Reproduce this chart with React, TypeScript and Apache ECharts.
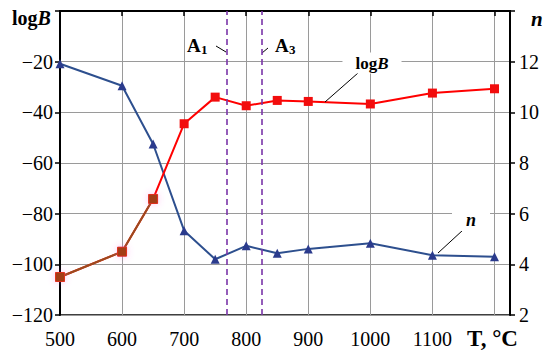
import React, { useEffect, useRef } from "react";
import * as echarts from "echarts";

const temps = [500, 600, 650, 700, 750, 800, 850, 900, 1000, 1100, 1200];
const logB = [-105, -95, -74.2, -44.5, -34, -37.4, -35.3, -35.7, -36.7, -32.4, -30.7];
const nVals = [11.92, 11.05, 8.75, 5.33, 4.2, 4.73, 4.44, 4.61, 4.83, 4.36, 4.3];
const xTicks = [500, 600, 700, 800, 900, 1000, 1100, 1200];
const xLabels = [500, 600, 700, 800, 900, 1000, 1100];
const criticalTemps = [769, 825];
const brownCount = 3;

const FONT = "Liberation Serif";

export default function App() {
  const ref = useRef<HTMLDivElement>(null);
  useEffect(() => {
    if (!ref.current) return;
    const chart = echarts.init(ref.current, null, { renderer: "svg" });
    const redData = temps.map((t, i) => [t, logB[i]]);
    const brownData = redData.slice(0, brownCount);
    const blueData = temps.map((t, i) => [t, nVals[i]]);
    const minus = (v: number) => (v < 0 ? "\u2212" + Math.abs(v) : String(v));
    chart.setOption({
      animation: false,
      backgroundColor: "#fff",
      grid: {
        left: 60,
        right: 40,
        top: 11,
        bottom: 45,
        show: true,
        borderColor: "#000",
        borderWidth: 1.5,
        backgroundColor: "transparent",
      },
      xAxis: {
        type: "value",
        min: 500,
        max: 1225,
        interval: 100,
        axisLine: { show: true, lineStyle: { color: "#000", width: 2 } },
        axisTick: {
          show: true,
          customValues: xTicks,
          length: 5,
          lineStyle: { color: "#000", width: 1.5 },
        },
        axisLabel: {
          customValues: xLabels,
          fontFamily: FONT,
          fontSize: 20,
          color: "#000",
          margin: 14,
          formatter: (v: number) => String(v),
        },
        splitLine: { show: true, lineStyle: { color: "#9a9a9a", width: 1 } },
      },
      yAxis: [
        {
          type: "value",
          min: -120,
          max: 0,
          interval: 20,
          axisLine: { show: true, lineStyle: { color: "#000", width: 2 } },
          axisTick: { show: true, length: 5, lineStyle: { color: "#000", width: 1.5 } },
          axisLabel: {
            fontFamily: FONT,
            fontSize: 20,
            color: "#000",
            margin: 7,
            formatter: (v: number) => (v === 0 ? "" : minus(v)),
          },
          splitLine: { show: true, lineStyle: { color: "#9a9a9a", width: 1 } },
        },
        {
          type: "value",
          min: 2,
          max: 14,
          interval: 2,
          position: "right",
          axisLine: { show: true, lineStyle: { color: "#000", width: 2 } },
          axisTick: { show: true, length: 5, lineStyle: { color: "#000", width: 1.5 } },
          axisLabel: {
            fontFamily: FONT,
            fontSize: 20,
            color: "#000",
            margin: 9,
            formatter: (v: number) => (v === 14 ? "" : String(v)),
          },
          splitLine: { show: false },
        },
      ],
      series: [
        {
          type: "line",
          name: "n",
          yAxisIndex: 1,
          data: blueData,
          symbol: "triangle",
          symbolSize: 9,
          lineStyle: { color: "#2d4f8e", width: 2 },
          itemStyle: { color: "#2b3b8d" },
          z: 3,
        },
        {
          type: "line",
          name: "logB",
          data: redData,
          symbol: "rect",
          symbolSize: 9,
          lineStyle: { color: "#ff0000", width: 2 },
          itemStyle: { color: "#f20d0d" },
          z: 4,
          markLine: {
            silent: true,
            symbol: "none",
            label: { show: false },
            lineStyle: { type: [6, 4], color: "#7a35a8", width: 1.6 },
            data: criticalTemps.map((t) => ({ xAxis: t })),
          },
        },
        {
          type: "line",
          name: "logBlow",
          data: brownData,
          symbol: "rect",
          symbolSize: 9,
          lineStyle: { color: "#9a4c1e", width: 2 },
          itemStyle: {
            color: "#a33c14",
            borderColor: "#e0301a",
            borderWidth: 1,
            shadowColor: "rgba(255,90,220,0.35)",
            shadowBlur: 7,
          },
          z: 5,
        },
      ],
      graphic: [
        {
          type: "text",
          left: 12,
          top: 8,
          style: {
            text: "{a|log}{b|B}",
            rich: {
              a: { fontFamily: FONT, fontSize: 20, fontWeight: "bold", fill: "#000" },
              b: { fontFamily: FONT, fontSize: 20, fontWeight: "bold", fontStyle: "italic", fill: "#000" },
            },
          },
        },
        {
          type: "text",
          left: 531,
          top: 8,
          style: {
            text: "n",
            fontFamily: FONT,
            fontSize: 21,
            fontWeight: "bold",
            fontStyle: "italic",
            fill: "#000",
          },
        },
        {
          type: "text",
          left: 467,
          top: 327,
          style: {
            text: "T, \u00B0C",
            fontFamily: FONT,
            fontSize: 23,
            fontWeight: "bold",
            fill: "#000",
          },
        },
        {
          type: "text",
          x: 187,
          y: 36,
          style: { text: "A", fontFamily: FONT, fontSize: 19, fontWeight: "bold", fill: "#000" },
        },
        {
          type: "text",
          x: 201,
          y: 43,
          style: { text: "1", fontFamily: FONT, fontSize: 13, fontWeight: "bold", fill: "#000" },
        },
        {
          type: "line",
          shape: { x1: 216, y1: 46, x2: 226, y2: 52 },
          style: { stroke: "#000", lineWidth: 1 },
        },
        {
          type: "text",
          x: 275,
          y: 36,
          style: { text: "A", fontFamily: FONT, fontSize: 19, fontWeight: "bold", fill: "#000" },
        },
        {
          type: "text",
          x: 289,
          y: 43,
          style: { text: "3", fontFamily: FONT, fontSize: 13, fontWeight: "bold", fill: "#000" },
        },
        {
          type: "line",
          shape: { x1: 262, y1: 53, x2: 268, y2: 48 },
          style: { stroke: "#000", lineWidth: 1 },
        },
        {
          type: "line",
          shape: { x1: 325, y1: 102, x2: 358, y2: 73 },
          style: { stroke: "#000", lineWidth: 1 },
          z: 10,
        },
        {
          type: "text",
          x: 372,
          y: 63,
          z: 10,
          style: {
            text: "{a|log}{b|B}",
            align: "center",
            verticalAlign: "middle",
            backgroundColor: "#fff",
            padding: [2, 13, 2, 13],
            rich: {
              a: { fontFamily: FONT, fontSize: 17, fontWeight: "bold", fill: "#000" },
              b: { fontFamily: FONT, fontSize: 17, fontWeight: "bold", fontStyle: "italic", fill: "#000" },
            },
          },
        },
        {
          type: "line",
          shape: { x1: 438, y1: 253, x2: 463, y2: 230 },
          style: { stroke: "#000", lineWidth: 1 },
          z: 10,
        },
        {
          type: "text",
          x: 471,
          y: 220,
          z: 10,
          style: {
            text: "n",
            align: "center",
            verticalAlign: "middle",
            backgroundColor: "#fff",
            padding: [2, 14, 2, 14],
            fontFamily: FONT,
            fontSize: 18,
            fontWeight: "bold",
            fontStyle: "italic",
            fill: "#000",
          },
        },
      ],
    });
    return () => chart.dispose();
  }, []);
  return <div ref={ref} style={{ width: 550, height: 360, position: "absolute", left: 0, top: 0 }} />;
}
